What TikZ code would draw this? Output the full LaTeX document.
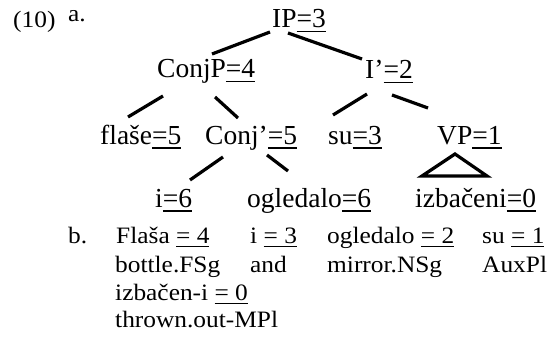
\documentclass[tikz,border=0pt]{standalone}
\usepackage{fontspec}
\setmainfont{Liberation Serif}
\newfontfamily\glfont[FakeStretch=1.08]{Liberation Serif}
\newcommand\treeul[1]{\setbox0\hbox{#1}\rlap{\rule[-4.5pt]{\wd0}{1.3pt}}\box0}
\newcommand\glul[1]{\setbox0\hbox{#1}\rlap{\rule[-4pt]{\wd0}{1.1pt}}\box0}
\begin{document}
\begin{tikzpicture}[x=1pt,y=-1pt,
  tr/.style={font=\fontsize{27.5}{30}\selectfont, inner sep=0pt, anchor=base west},
  gl/.style={font=\glfont\fontsize{23.5}{26}\selectfont, inner sep=0pt, anchor=base west},
  br/.style={line width=3.2pt}]
\useasboundingbox (0,0) rectangle (551,350);
% labels
\node[gl] (ex) at (13,28) {(10)};
\node[gl] (la) at (68,22) {a.};
% tree
\node[tr] (ip) at (272,28) {IP\treeul{=3}};
\node[tr] (conjp) at (157,78) {ConjP\treeul{=4}};
\node[tr] (ibar) at (365,79) {I’\treeul{=2}};
\node[tr] (flase) at (100,144) {flaše\treeul{=5}};
\node[tr] (conjbar) at (205,144) {Conj’\treeul{=5}};
\node[tr] (su) at (328,144) {su\treeul{=3}};
\node[tr] (vp) at (437,144) {VP\treeul{=1}};
\node[tr] (i) at (155,207) {i\treeul{=6}};
\node[tr] (ogl) at (247,207) {ogledalo\treeul{=6}};
\node[tr] (izb) at (415,207) {izbačeni\treeul{=0}};
% connector end points
\coordinate (ip-l) at (270,32);   \coordinate (conjp-t) at (212,54);
\coordinate (ip-r) at (288,33);   \coordinate (ibar-t) at (362,59);
\coordinate (conjp-l) at (163,96); \coordinate (flase-t) at (128,117);
\coordinate (conjp-r) at (215,97); \coordinate (conjbar-t) at (238,118);
\coordinate (ibar-l) at (367,94);  \coordinate (su-t) at (333,115);
\coordinate (ibar-r) at (392,95);  \coordinate (vp-t) at (428,108);
\coordinate (conjbar-l) at (223,157); \coordinate (i-t) at (190,180);
\coordinate (conjbar-r) at (267,155); \coordinate (ogl-t) at (288,171);
\coordinate (tri-top) at (455,154);
\coordinate (tri-l) at (422,176);
\coordinate (tri-r) at (487,176);
\draw[br] (ip-l) -- (conjp-t);
\draw[br] (ip-r) -- (ibar-t);
\draw[br] (conjp-l) -- (flase-t);
\draw[br] (conjp-r) -- (conjbar-t);
\draw[br] (ibar-l) -- (su-t);
\draw[br] (ibar-r) -- (vp-t);
\draw[br] (conjbar-l) -- (i-t);
\draw[br] (conjbar-r) -- (ogl-t);
\draw[br, line join=miter] (tri-l) -- (tri-top) -- (tri-r) -- cycle;
% part b
\node[gl] (lb) at (68,243) {b.};
\node[gl] (g1) at (116,243) {Flaša \glul{= 4}};
\node[gl] (g2) at (250,243) {i \glul{= 3}};
\node[gl] (g3) at (327,243) {ogledalo \glul{= 2}};
\node[gl] (g4) at (482,243) {su \glul{= 1}};
\node[gl] (t1) at (115,272) {bottle.FSg};
\node[gl] (t2) at (250,272) {and};
\node[gl] (t3) at (327,272) {mirror.NSg};
\node[gl] (t4) at (482,272) {AuxPl};
\node[gl] (g5) at (115,300) {izbačen-i \glul{= 0}};
\node[gl] (t5) at (115,327) {thrown.out-MPl};
\end{tikzpicture}
\end{document}
